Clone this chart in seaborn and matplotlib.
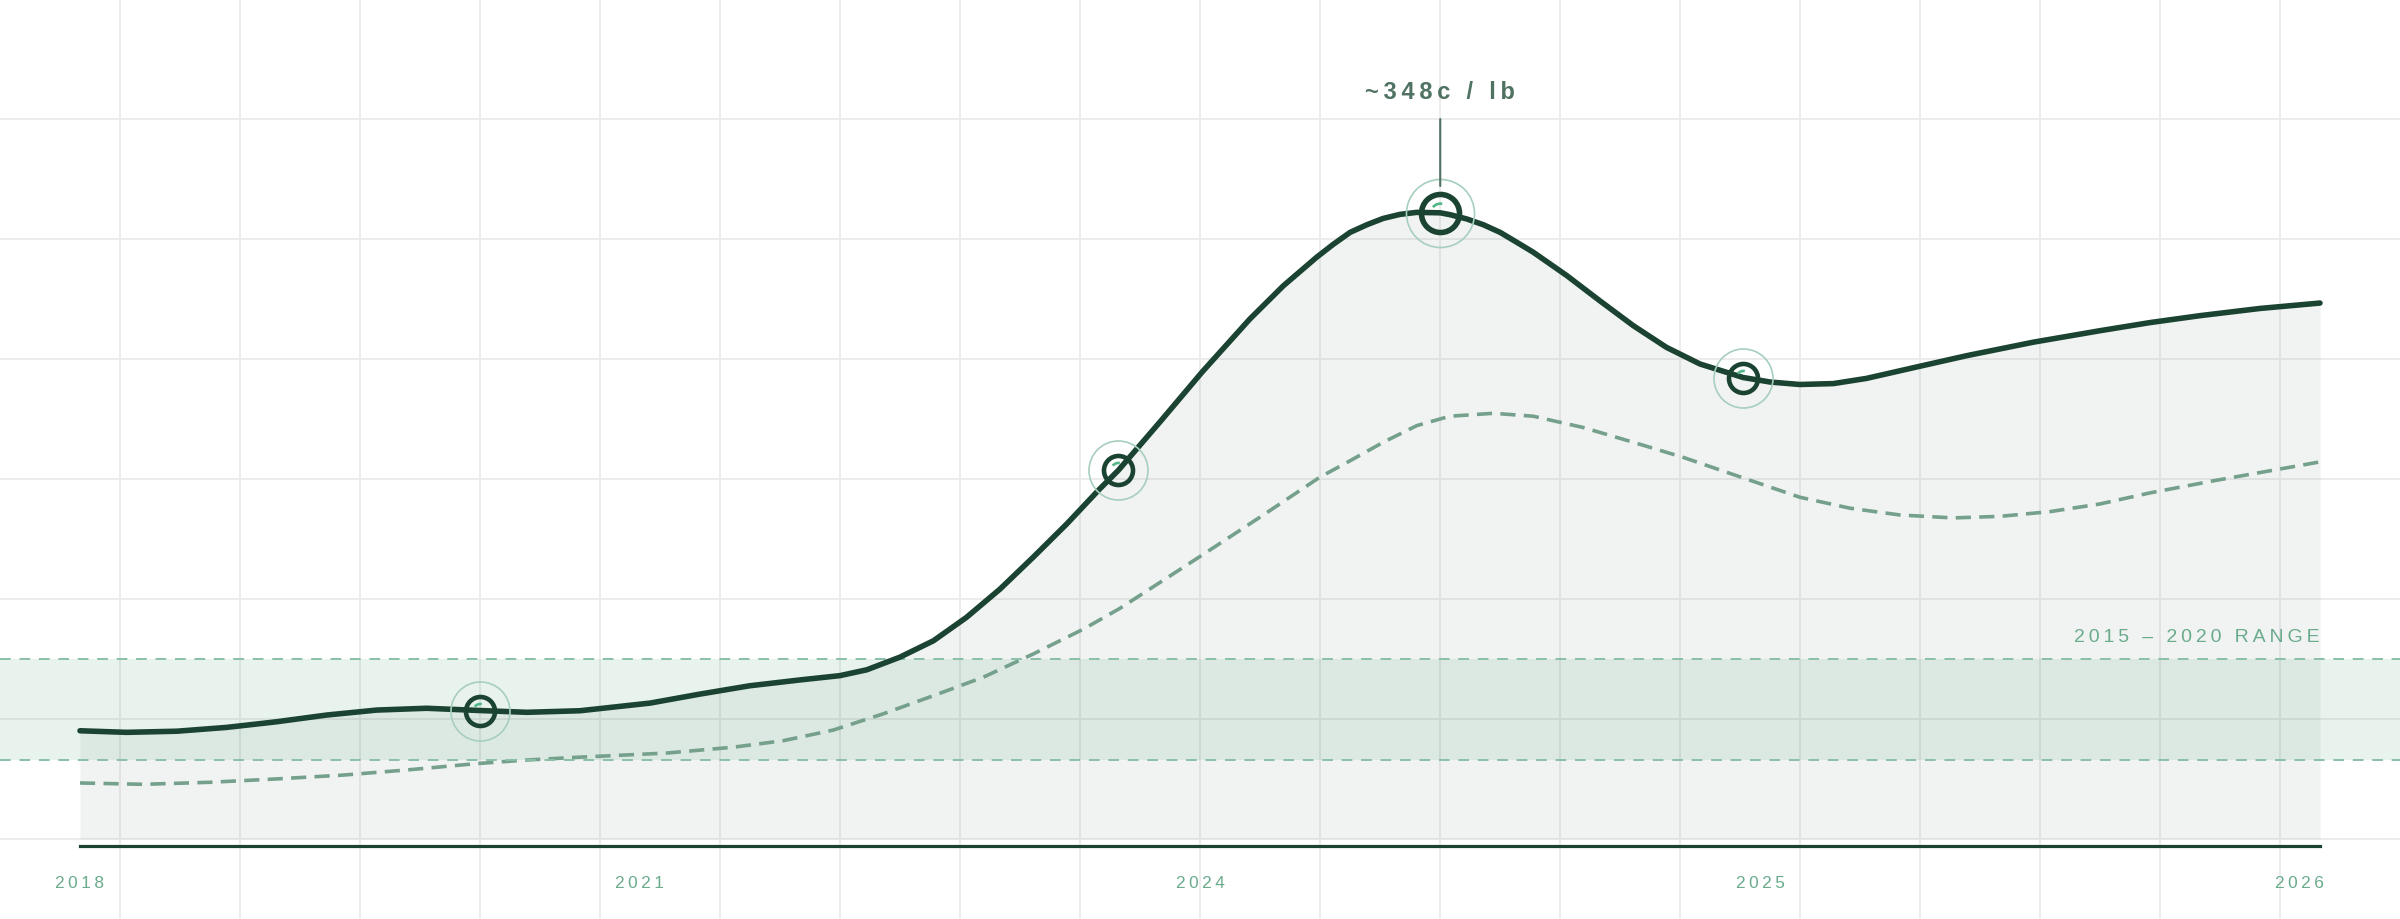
import numpy as np
import pandas as pd
import matplotlib.pyplot as plt
from matplotlib.path import Path
import seaborn as sns

sns.set_theme(style="white")
plt.rcParams['font.family'] = ['Liberation Sans', 'DejaVu Sans']

# x is counted in tick spacings from the 2018 tick, y is cents per lb
tick_pos = [0, 1, 2, 3, 3.964]
tick_labels = ["2018", "2021", "2024", "2025", "2026"]

price_x = [0.0, 0.083, 0.173, 0.262, 0.351, 0.441, 0.53, 0.619, 0.714, 0.798,
           0.893, 1.018, 1.107, 1.196, 1.286, 1.357, 1.405, 1.464, 1.524, 1.583,
           1.643, 1.702, 1.762, 1.821, 1.854, 1.93, 2.004, 2.089, 2.149, 2.208,
           2.238, 2.268, 2.298, 2.327, 2.357, 2.387, 2.429, 2.446, 2.476, 2.506,
           2.536, 2.565, 2.595, 2.655, 2.714, 2.774, 2.833, 2.893, 2.97, 3.018,
           3.071, 3.131, 3.19, 3.28, 3.369, 3.488, 3.607, 3.696, 3.786, 3.893,
           4.0]
price_y = [118.1, 117.4, 117.9, 119.6, 122.1, 125.1, 127.3, 128.1, 127.1, 126.3,
           127.0, 130.4, 134.4, 138.1, 140.7, 142.6, 145.2, 150.8, 158.1, 168.5,
           181.1, 195.2, 210.0, 225.6, 233.8, 255.8, 277.6, 301.1, 315.9, 328.5,
           334.3, 339.6, 343.0, 345.8, 347.6, 348.5, 348.3, 347.5, 345.6, 343.0,
           339.6, 335.3, 330.8, 320.4, 309.2, 298.1, 288.5, 281.1, 275.1, 273.1,
           272.0, 272.4, 274.7, 279.8, 284.8, 290.8, 295.9, 299.5, 302.6, 305.8,
           308.2]

avg_x = [0.0, 0.113, 0.232, 0.351, 0.47, 0.589, 0.708, 0.798, 0.887, 1.048,
         1.167, 1.256, 1.345, 1.434, 1.524, 1.613, 1.702, 1.792, 1.857, 2.004,
         2.113, 2.214, 2.268, 2.327, 2.387, 2.446, 2.524, 2.595, 2.684, 2.774,
         2.863, 2.958, 3.071, 3.161, 3.25, 3.345, 3.429, 3.518, 3.607, 3.696,
         3.81, 4.0]
avg_y = [94.9, 94.3, 95.2, 96.7, 98.4, 100.8, 103.5, 105.1, 106.3, 108.2,
         110.8, 113.7, 118.4, 125.6, 133.7, 141.9, 152.2, 163.3, 172.5, 196.2,
         214.0, 230.8, 238.1, 246.3, 253.7, 257.9, 259.2, 257.9, 252.9, 246.3,
         239.6, 231.5, 221.9, 217.0, 214.0, 212.7, 213.4, 215.5, 218.9, 223.8,
         229.2, 237.6]

marker_x = [0.714, 1.854, 2.429, 2.97]
marker_y = [127.1, 233.8, 348.0, 275.1]

peak_label = "~348c / lb"
range_lo, range_hi = 105, 150
range_label = "2015 \u2013 2020 RANGE"
base_value = 70

DARK = "#1b4332"
MID = "#74a08c"
LIGHT = "#8abfa6"
LABEL = "#6aab8c"
NOTE = "#4f7262"


def spaced(s, sp="\u2009"):
    return sp.join(s)


fig = plt.figure(figsize=(24, 9.2), dpi=100)

# background grid every 120 px
bg = fig.add_axes([0, 0, 1, 1], zorder=0)
bg.set_xlim(0, 2400)
bg.set_ylim(920, 0)
bg.set_xticks(np.arange(120, 2400, 120))
bg.set_yticks(np.arange(120, 920, 120))
bg.grid(True, color="#ececec", lw=1.44)
bg.tick_params(length=0, labelbottom=False, labelleft=False)
for s in bg.spines.values():
    s.set_visible(False)

ax = fig.add_axes([0, 0, 1, 1], zorder=1)
ax.set_facecolor("none")
ax.set_xlim(-80 / 560, 2320 / 560)
ax.set_ylim(34.44, 443.33)

# historical range band
ax.axhspan(range_lo, range_hi, color="#2d8a5f", alpha=0.1, lw=0, zorder=1)
for v in (range_lo, range_hi):
    ax.axhline(v, color=LIGHT, lw=1.4, ls=(0, (5.5, 4.5)), zorder=4)
ax.annotate(spaced(range_label), xy=(4.0, range_hi), xytext=(0, 16.5),
            textcoords="offset points", ha="right", va="center",
            fontsize=14, color=LABEL)

# area under price
ax.fill_between(price_x, price_y, base_value, color=DARK, alpha=0.06, lw=0, zorder=2)

df_avg = pd.DataFrame({"x": avg_x, "y": avg_y})
sns.lineplot(data=df_avg, x="x", y="y", ax=ax, color=MID, linewidth=2.6, zorder=3)
ax.lines[-1].set_dashes((4.2, 2.3))

df_price = pd.DataFrame({"x": price_x, "y": price_y})
sns.lineplot(data=df_price, x="x", y="y", ax=ax, color=DARK, linewidth=4.0,
             solid_capstyle="round", solid_joinstyle="round", zorder=5)

# markers: halo, ring, small inner arc; the peak one is drawn larger
peak = int(np.argmax(marker_y))
for i, (mx, my) in enumerate(zip(marker_x, marker_y)):
    big = i == peak
    ax.plot(mx, my, marker="o", ms=49 if big else 42.5, mfc="none",
            mec="#a7cfbd", mew=1.2, zorder=6)
    ax.plot(mx, my, marker="o", ms=27.4 if big else 20.9, mfc="none",
            mec=DARK, mew=4.0 if big else 3.3, zorder=7)
    ax.plot(mx, my, marker=Path.arc(80, 140), ms=14.4 if big else 11,
            mfc="none", mec="#52b788", mew=1.9, zorder=8)

# peak callout
px, py = marker_x[peak], marker_y[peak]
ax.annotate("", xy=(px, py), xytext=(0, 68), textcoords="offset points",
            arrowprops=dict(arrowstyle="-", color=NOTE, lw=1.5,
                            shrinkA=0, shrinkB=19.8), zorder=6)
ax.annotate(spaced(peak_label), xy=(px, py), xytext=(0, 88),
            textcoords="offset points", ha="center", va="center",
            fontsize=17, fontweight="bold", color=NOTE)

# x axis
for side in ("left", "right", "top"):
    ax.spines[side].set_visible(False)
ax.spines["bottom"].set_position(("data", 66.9))
ax.spines["bottom"].set_bounds(0, 4)
ax.spines["bottom"].set_color(DARK)
ax.spines["bottom"].set_linewidth(2.3)
ax.set_xticks(tick_pos, labels=[spaced(t) for t in tick_labels])
ax.set_yticks([])
ax.tick_params(axis="x", direction="out", length=10.8, width=1.5,
               color="#7fb89c", pad=10, labelsize=12.4, labelcolor=LABEL)
ax.set_xlabel("")
ax.set_ylabel("")

fig.savefig("out.png", dpi=100)
